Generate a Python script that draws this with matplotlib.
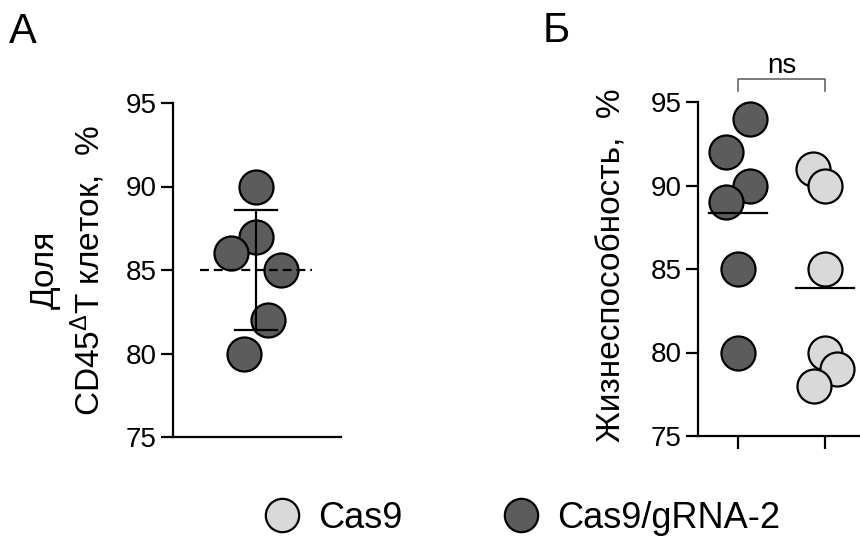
import numpy as np
import matplotlib
matplotlib.use("Agg")
import matplotlib.pyplot as plt
from matplotlib.lines import Line2D

plt.rcParams['font.family'] = ['Liberation Sans', 'DejaVu Sans']
plt.rcParams['mathtext.default'] = 'regular'

# Panel A: share of CD45dT cells, %
a_vals = [90, 87, 86, 85, 82, 80]
a_jitter = [0, 0, -0.149, 0.149, 0.071, -0.071]

# Panel B: viability, %
b_groups = ['Cas9/gRNA-2', 'Cas9']
b_dark = [94, 92, 90, 89, 85, 80]
b_dark_jitter = [0.138, -0.138, 0.138, -0.138, 0, 0]
b_light = [91, 90, 85, 80, 79, 78]
b_light_jitter = [-0.138, 0, 0, 0, 0.138, -0.126]

dark = '#5c5c5c'
light = '#d9d9d9'
ms = 24.5
yticks = [75, 80, 85, 90, 95]

W, H = 860, 537
fig = plt.figure(figsize=(8.6, 5.37), dpi=100)


def style_axis(ax):
    for s in ['top', 'right']:
        ax.spines[s].set_visible(False)
    for s in ['left', 'bottom']:
        ax.spines[s].set_linewidth(1.6)
    ax.set_ylim(75, 95)
    ax.set_yticks(yticks)
    ax.tick_params(axis='y', length=9, width=1.6, labelsize=20, pad=3)


# ---- A ----
axA = fig.add_axes([173 / W, 1 - 437 / H, 168 / W, 334 / H])
style_axis(axA)
axA.set_xlim(0, 1)
axA.set_xticks([])
cA = 0.494
for v, j in zip(a_vals, a_jitter):
    axA.plot(cA + j, v, 'o', ms=ms, mfc=dark, mec='black', mew=1.6, zorder=3, clip_on=False)
mA = np.mean(a_vals)
sA = np.std(a_vals, ddof=1)
axA.plot([0.161, 0.827], [mA, mA], color='black', lw=1.6, ls=(0, (4, 2.2)), zorder=4)
axA.plot([cA, cA], [mA - sA, mA + sA], color='black', lw=1.6, zorder=4)
for y in [mA - sA, mA + sA]:
    axA.plot([cA - 0.125, cA + 0.125], [y, y], color='black', lw=1.6, zorder=4)
axA.set_ylabel('Доля\nCD45$^{Δ}$T клеток,  %', fontsize=24, multialignment='center',
               linespacing=1.25)
axA.yaxis.set_label_coords(-0.39, 0.5)

# ---- B ----
axB = fig.add_axes([698 / W, 1 - 436 / H, 182 / W, 334 / H])
style_axis(axB)
axB.set_xlim(-0.46, 1.632)
axB.set_xticks([0, 1])
axB.set_xticklabels([])
axB.tick_params(axis='x', length=9, width=1.6)
for v, j in zip(b_dark, b_dark_jitter):
    axB.plot(0 + j, v, 'o', ms=ms, mfc=dark, mec='black', mew=1.6, zorder=3, clip_on=False)
for v, j in zip(b_light, b_light_jitter):
    axB.plot(1 + j, v, 'o', ms=ms, mfc=light, mec='black', mew=1.6, zorder=3, clip_on=False)
for x, vals in [(0, b_dark), (1, b_light)]:
    m = np.mean(vals)
    axB.plot([x - 0.33, x + 0.33], [m, m], color='black', lw=1.6, zorder=4)
axB.set_ylabel('Жизнеспособность,  %', fontsize=24)
axB.yaxis.set_label_coords(-0.385, 0.512)

# ns bracket
axB.plot([0, 0, 1, 1], [95.66, 96.38, 96.38, 95.66], color='#666666', lw=1.2, clip_on=False)
axB.text(0.5, 96.35, 'ns', ha='center', va='bottom', fontsize=20)

# panel letters
fig.text(9 / W, 1 - 43 / H, 'А', fontsize=30)
fig.text(543 / W, 1 - 42 / H, 'Б', fontsize=30)

# legend
handles = [
    Line2D([], [], ls='none', marker='o', ms=24, mfc=light, mec='black', mew=1.6),
    Line2D([], [], ls='none', marker='o', ms=24, mfc=dark, mec='black', mew=1.6),
]
fig.legend(handles, ['Cas9', 'Cas9/gRNA-2'], loc='center left',
           bbox_to_anchor=(263.6 / W, 1 - 518 / H), ncol=2, frameon=False,
           fontsize=26, handlelength=1.0, handletextpad=0.5, columnspacing=2.8,
           borderpad=0, borderaxespad=0)

fig.savefig('out.png', dpi=100)
